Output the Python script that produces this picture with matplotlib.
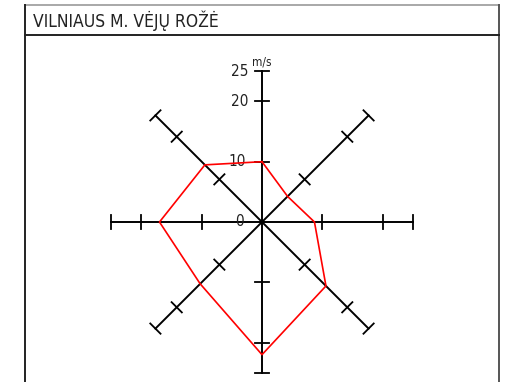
import numpy as np
import matplotlib.pyplot as plt

# wind speeds (m/s) by direction, clockwise from north
directions = ["N", "NE", "E", "SE", "S", "SW", "W", "NW"]
speeds = [10, 6, 8.7, 15, 22, 14.5, 17, 13.4]
axis_ticks = [10, 20]
axis_max = 25
scale_labels = ["0", "10", "20", "25"]
title = "VILNIAUS M. VĖJŲ ROŽĖ"

font = dict(family="DejaVu Sans", stretch="condensed", color="#222222")

fig = plt.figure(figsize=(5.09, 3.82), dpi=100)

# frame around the chart (pixel coords)
frame = fig.add_axes([0, 0, 1, 1])
frame.set_xlim(0, 509)
frame.set_ylim(382, 0)
frame.axis("off")
frame.plot([25.5, 499], [5, 5], color="#999999", lw=1.2)
frame.plot([25.5, 25.5], [5, 382], color="#222222", lw=1.4)
frame.plot([499, 499], [5, 382], color="#555555", lw=1.4)
frame.plot([25.5, 499], [35, 35], color="#222222", lw=1.4)
frame.text(33, 20.5, title, fontsize=12.5, va="center", ha="left", **font)

# wind rose
px = 6.03
ax = fig.add_axes([(262 - 30 * px) / 509, (160 - 26 * px) / 382,
                   60 * px / 509, 53 * px / 382])
ax.set_xlim(-30, 30)
ax.set_ylim(-26, 27)
ax.set_aspect("equal")
ax.axis("off")

angles = np.deg2rad(90 - 45 * np.arange(len(directions)))
half = 1.2
for a in angles:
    ux, uy = np.cos(a), np.sin(a)
    ax.plot([0, axis_max * ux], [0, axis_max * uy], color="black", lw=1.4)
    for r in axis_ticks + [axis_max]:
        cx, cy = r * ux, r * uy
        ax.plot([cx - half * uy, cx + half * uy], [cy + half * ux, cy - half * ux],
                color="black", lw=1.3)

xs = np.array(speeds) * np.cos(angles)
ys = np.array(speeds) * np.sin(angles)
ax.plot(np.append(xs, xs[0]), np.append(ys, ys[0]), color="red", lw=1.2, zorder=5)

label_pos = {"0": (-3.1, 0), "10": (-2.7, 10), "20": (-2.3, 20), "25": (-2.3, 25)}
for lab in scale_labels:
    x, y = label_pos[lab]
    ax.text(x, y, lab, fontsize=11, ha="right", va="center", clip_on=False, **font)
ax.text(-1.6, 26.5, "m/s", fontsize=8.5, ha="left", va="center", clip_on=False, **font)

fig.savefig("out.png", dpi=100)
